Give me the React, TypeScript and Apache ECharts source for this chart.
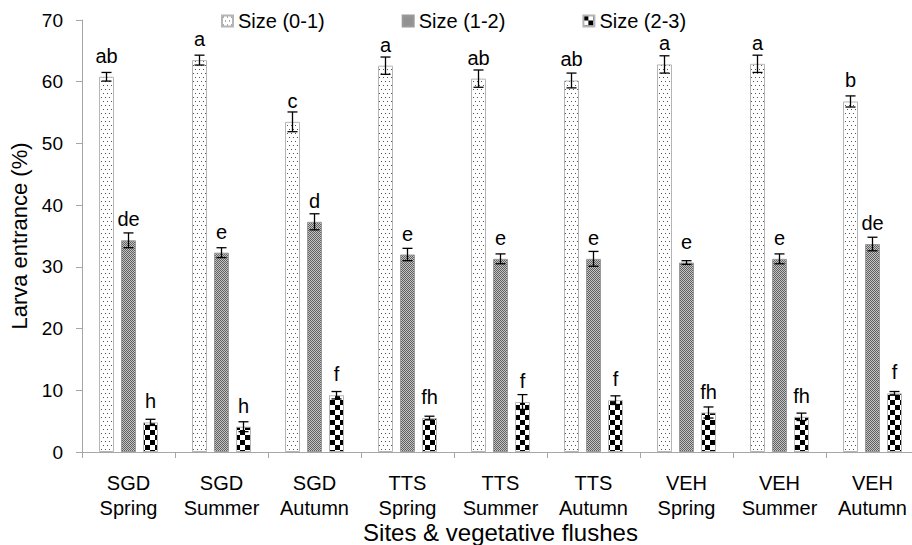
import React, { useEffect, useRef } from "react";
import * as echarts from "echarts";

const SITES = ["SGD", "SGD", "SGD", "TTS", "TTS", "TTS", "VEH", "VEH", "VEH"];
const SEASONS = ["Spring", "Summer", "Autumn", "Spring", "Summer", "Autumn", "Spring", "Summer", "Autumn"];
const SERIES_NAMES = ["Size (0-1)", "Size (1-2)", "Size (2-3)"];

const SIZE_0_1 = [60.8, 63.5, 53.5, 62.6, 60.5, 60.2, 62.8, 62.9, 56.8];
const SIZE_0_1_ERR = [0.7, 0.8, 1.6, 1.4, 1.4, 1.2, 1.4, 1.4, 0.9];
const SIZE_0_1_LETTERS = ["ab", "a", "c", "a", "ab", "ab", "a", "a", "b"];

const SIZE_1_2 = [34.3, 32.3, 37.3, 32.0, 31.3, 31.3, 30.7, 31.3, 33.7];
const SIZE_1_2_ERR = [1.2, 0.8, 1.3, 1.0, 0.8, 1.2, 0.3, 0.8, 1.1];
const SIZE_1_2_LETTERS = ["de", "e", "d", "e", "e", "e", "e", "e", "de"];

const SIZE_2_3 = [4.8, 4.1, 9.2, 5.5, 8.1, 8.4, 6.4, 5.7, 9.5];
const SIZE_2_3_ERR = [0.5, 0.8, 0.6, 0.3, 1.2, 0.7, 0.9, 0.6, 0.3];
const SIZE_2_3_LETTERS = ["h", "h", "f", "fh", "f", "f", "fh", "fh", "f"];

const Y_TICKS = [0, 10, 20, 30, 40, 50, 60, 70];

const FONT = "'Liberation Sans', Arial, Helvetica, sans-serif";
const BAR_W = 15;
const BAR_GAP = 7;

function makePattern(w: number, h: number, draw: (ctx: CanvasRenderingContext2D) => void) {
  const c = document.createElement("canvas");
  c.width = w;
  c.height = h;
  const ctx = c.getContext("2d") as CanvasRenderingContext2D;
  draw(ctx);
  return { image: c, repeat: "repeat" } as any;
}

export default function App() {
  const ref = useRef<HTMLDivElement>(null);

  useEffect(() => {
    if (!ref.current) return;
    const chart = echarts.init(ref.current, null, { renderer: "svg" });

    const dotted = makePattern(4, 8, (ctx) => {
      ctx.fillStyle = "#ffffff";
      ctx.fillRect(0, 0, 4, 8);
      ctx.fillStyle = "#555555";
      ctx.fillRect(1, 1, 1, 1);
      ctx.fillRect(3, 5, 1, 1);
    });
    const mesh = makePattern(2, 2, (ctx) => {
      ctx.fillStyle = "#c4c4c4";
      ctx.fillRect(0, 0, 2, 2);
      ctx.fillStyle = "#606060";
      ctx.fillRect(0, 0, 1, 1);
      ctx.fillRect(1, 1, 1, 1);
    });
    const checker = makePattern(10, 10, (ctx) => {
      ctx.fillStyle = "#ffffff";
      ctx.fillRect(0, 0, 10, 10);
      ctx.fillStyle = "#000000";
      ctx.fillRect(0, 0, 5, 5);
      ctx.fillRect(5, 5, 5, 5);
    });

    const categories = SITES.map((s, i) => s + "\n" + SEASONS[i]);
    const values = [SIZE_0_1, SIZE_1_2, SIZE_2_3];
    const errs = [SIZE_0_1_ERR, SIZE_1_2_ERR, SIZE_2_3_ERR];
    const letters = [SIZE_0_1_LETTERS, SIZE_1_2_LETTERS, SIZE_2_3_LETTERS];
    const fills = [dotted, mesh, checker];
    const borders = ["#b5b5b5", "#9a9a9a", "#b5b5b5"];

    const barSeries = values.map((vals, k) => ({
      name: SERIES_NAMES[k],
      type: "bar",
      data: vals,
      barWidth: BAR_W,
      barGap: (BAR_GAP / BAR_W) * 100 + "%",
      itemStyle: { color: fills[k], borderColor: borders[k], borderWidth: 1 },
      z: 2,
    }));

    const errSeries = values.map((vals, k) => ({
      name: "err" + k,
      type: "custom",
      z: 10,
      clip: false,
      data: vals.map((v, i) => [i, v, errs[k][i]]),
      encode: { x: 0, y: 1 },
      renderItem: (params: any, api: any) => {
        const idx = api.value(0);
        const v = api.value(1);
        const e = api.value(2);
        const off = (k - 1) * (BAR_W + BAR_GAP);
        const c = api.coord([idx, v]);
        const hi = api.coord([idx, v + e]);
        const lo = api.coord([idx, v - e]);
        const x = c[0] + off;
        const cap = 5;
        const ls = { stroke: "#000", lineWidth: 1.3 };
        return {
          type: "group",
          children: [
            { type: "line", shape: { x1: x, y1: hi[1], x2: x, y2: lo[1] }, style: ls },
            { type: "line", shape: { x1: x - cap, y1: hi[1], x2: x + cap, y2: hi[1] }, style: ls },
            { type: "line", shape: { x1: x - cap, y1: lo[1], x2: x + cap, y2: lo[1] }, style: ls },
            {
              type: "text",
              x: x,
              y: c[1] - 11,
              style: {
                text: letters[k][params.dataIndex],
                fontSize: 20,
                fontFamily: FONT,
                fill: "#000",
                align: "center",
                verticalAlign: "bottom",
              },
            },
          ],
        };
      },
    }));

    chart.setOption({
      animation: false,
      textStyle: { fontFamily: FONT, color: "#000" },
      legend: {
        data: SERIES_NAMES,
        left: 216,
        top: 6,
        icon: "rect",
        itemWidth: 11,
        itemHeight: 11,
        itemGap: 77,
        textStyle: { fontSize: 20, fontFamily: FONT, color: "#000" },
      },
      grid: { left: 82, top: 20, width: 837, height: 432, outerBoundsMode: "none", containLabel: false },
      xAxis: {
        type: "category",
        data: categories,
        name: "Sites & vegetative flushes",
        nameLocation: "middle",
        nameGap: 68,
        nameMoveOverlap: false,
        nameTextStyle: { fontSize: 24, fontFamily: FONT, color: "#000", verticalAlign: "top" },
        axisLine: { show: true, lineStyle: { color: "#a6a6a6", width: 1 } },
        axisTick: { show: true, length: 6, lineStyle: { color: "#a6a6a6" } },
        axisLabel: { interval: 0, margin: 18, lineHeight: 25, fontSize: 20, color: "#000", fontFamily: FONT },
        splitLine: { show: false },
      },
      yAxis: {
        type: "value",
        min: Y_TICKS[0],
        max: Y_TICKS[Y_TICKS.length - 1],
        interval: Y_TICKS[1] - Y_TICKS[0],
        name: "Larva entrance (%)",
        nameLocation: "middle",
        nameGap: 28,
        nameTextStyle: { fontSize: 22, fontFamily: FONT, color: "#000" },
        axisLine: { show: true, lineStyle: { color: "#a6a6a6", width: 1 } },
        axisTick: { show: true, length: 6, lineStyle: { color: "#a6a6a6" } },
        axisLabel: { margin: 19, fontSize: 19, color: "#000", fontFamily: FONT },
        splitLine: { show: false },
      },
      series: [...barSeries, ...errSeries],
    });

    return () => chart.dispose();
  }, []);

  return (
    <div
      ref={ref}
      style={{ position: "fixed", left: 0, top: 0, width: 912, height: 545, background: "#fff" }}
    />
  );
}
